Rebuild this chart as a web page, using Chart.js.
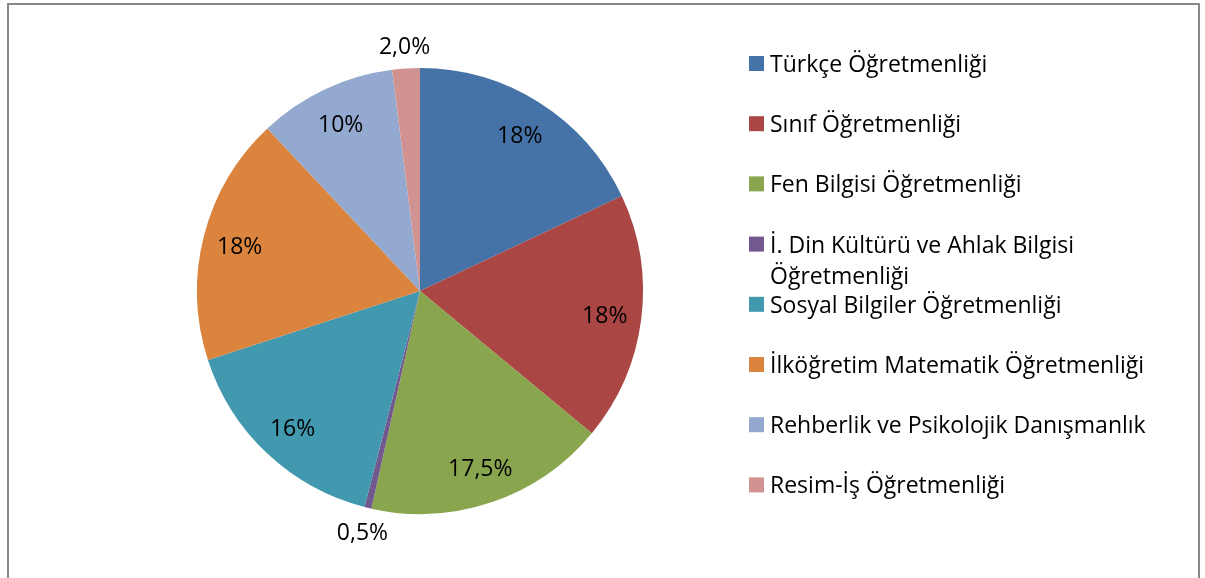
<!DOCTYPE html>
<html>
<head>
<meta charset="utf-8">
<script src="https://cdn.jsdelivr.net/npm/chart.js@4/dist/chart.umd.min.js"></script>
<style>
  body { margin: 0; background: #fff; }
  #wrap { position: relative; width: 1205px; height: 578px; overflow: hidden; }
  #frame { position: absolute; left: 7px; top: 3px; width: 1189px; height: 600px; border: 2px solid #888; }
  canvas { position: absolute; left: 0; top: 0; }
</style>
</head>
<body>
<div id="wrap">
  <div id="frame"></div>
  <canvas id="pieChart" width="1205" height="578"></canvas>
</div>
<script>
// Bölümlere göre dağılım
var categories = [
    'Türkçe Öğretmenliği',
    'Sınıf Öğretmenliği',
    'Fen Bilgisi Öğretmenliği',
    'İ. Din Kültürü ve Ahlak Bilgisi Öğretmenliği',
    'Sosyal Bilgiler Öğretmenliği',
    'İlköğretim Matematik Öğretmenliği',
    'Rehberlik ve Psikolojik Danışmanlık',
    'Resim-İş Öğretmenliği'
];
var percents = [18, 18, 17.5, 0.5, 16, 18, 10, 2];
var percentLabels = ['18%', '18%', '17,5%', '0,5%', '16%', '18%', '10%', '2,0%'];
// legend lines (wrapped the way the original does)
var legendLines = [
    ['Türkçe Öğretmenliği'],
    ['Sınıf Öğretmenliği'],
    ['Fen Bilgisi Öğretmenliği'],
    ['İ. Din Kültürü ve Ahlak Bilgisi', 'Öğretmenliği'],
    ['Sosyal Bilgiler Öğretmenliği'],
    ['İlköğretim Matematik Öğretmenliği'],
    ['Rehberlik ve Psikolojik Danışmanlık'],
    ['Resim-İş Öğretmenliği']
];
var colors = ['#4572A7', '#AA4643', '#89A54E', '#71588F', '#4198AF', '#DB843D', '#93A9CF', '#D19392'];

var FONT = '23px "Open Sans", "Liberation Sans", sans-serif';

// Percentage labels: inside for large slices, outside for small ones
var sliceLabels = {
    id: 'sliceLabels',
    afterDatasetsDraw: function(chart) {
        var ctx = chart.ctx;
        var arcs = chart.getDatasetMeta(0).data;
        ctx.save();
        ctx.font = FONT;
        ctx.fillStyle = '#000';
        ctx.textAlign = 'center';
        ctx.textBaseline = 'alphabetic';
        arcs.forEach(function(arc, i) {
            var mid = (arc.startAngle + arc.endAngle) / 2;
            var r = percents[i] < 5 ? arc.outerRadius * 1.105 : arc.outerRadius * 0.835;
            ctx.fillText(percentLabels[i], arc.x + Math.cos(mid) * r, arc.y + Math.sin(mid) * r + 9);
        });
        ctx.restore();
    }
};

// Legend drawn at the right like the original
var sideLegend = {
    id: 'sideLegend',
    afterDraw: function(chart) {
        var ctx = chart.ctx;
        ctx.save();
        ctx.font = FONT;
        ctx.textBaseline = 'alphabetic';
        ctx.textAlign = 'left';
        legendLines.forEach(function(lines, i) {
            var base = 72 + i * 60.2;
            ctx.fillStyle = colors[i];
            ctx.fillRect(749, base - 16, 15, 15);
            ctx.fillStyle = '#000';
            lines.forEach(function(t, j) {
                ctx.fillText(t, 770, base + j * 31);
            });
        });
        ctx.restore();
    }
};

new Chart(document.getElementById('pieChart'), {
    type: 'pie',
    data: {
        labels: categories,
        datasets: [{
            data: percents,
            backgroundColor: colors,
            borderWidth: 0
        }]
    },
    options: {
        responsive: false,
        animation: false,
        devicePixelRatio: 1,
        layout: {
            padding: { left: 197, right: 562, top: 68, bottom: 64 }
        },
        plugins: {
            legend: { display: false },
            tooltip: { enabled: false }
        }
    },
    plugins: [sliceLabels, sideLegend]
});
</script>
</body>
</html>
